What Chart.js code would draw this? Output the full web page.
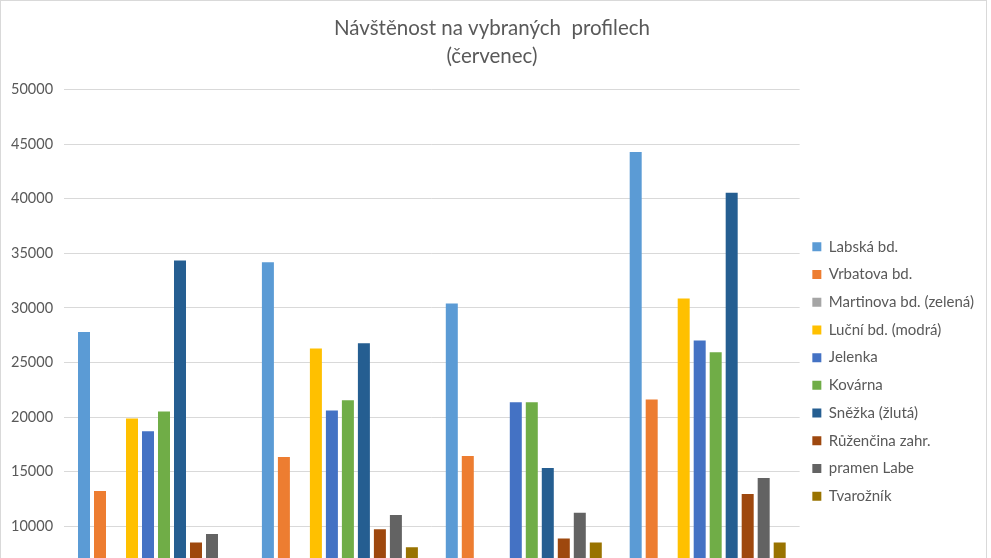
<!DOCTYPE html>
<html>
<head>
<meta charset="utf-8">
<script src="https://cdn.jsdelivr.net/npm/chart.js@4.4.0/dist/chart.umd.min.js"></script>
<style>
  html, body { margin: 0; padding: 0; background: #fff; overflow: hidden; }
  .frame { position: absolute; left: 0; top: 0; width: 987px; height: 700px; border: 1px solid #d9d9d9; box-sizing: border-box; }
  .chart { position: absolute; left: 0; top: 0; width: 991px; height: 677px; }
</style>
</head>
<body>
<div class="frame"></div>
<div class="chart">
  <canvas id="c"></canvas>
</div>
<script>
// kategorie (popisky osy X jsou pod okrajem obrázku - odhad)
const categories = ['2014', '2015', '2016', '2017'];

const labskaBd = [27790, 34180, 30410, 44290];
const vrbatovaBd = [13240, 16350, 16440, 21620];
const martinovaBd = [5200, 6100, 5600, 6800];
const lucniBd = [19880, 26300, 3500, 30870];
const jelenka = [18720, 20610, 21370, 27030];
const kovarna = [20520, 21550, 21370, 25940];
const snezka = [34340, 26760, 15340, 40550];
const ruzencina = [8520, 9740, 8890, 12970];
const pramenLabe = [9315, 11050, 11260, 14430];
const tvaroznik = [6400, 8100, 8520, 8520];

const yTicks = [0, 5000, 10000, 15000, 20000, 25000, 30000, 35000, 40000, 45000, 50000];

const textColor = '#595959';
const fontFamily = 'Lato, "Open Sans", sans-serif';

const series = [
  { label: 'Labská bd.', data: labskaBd, color: '#5B9BD5' },
  { label: 'Vrbatova bd.', data: vrbatovaBd, color: '#ED7D31' },
  { label: 'Martinova bd. (zelená)', data: martinovaBd, color: '#A5A5A5' },
  { label: 'Luční bd. (modrá)', data: lucniBd, color: '#FFC000' },
  { label: 'Jelenka', data: jelenka, color: '#4472C4' },
  { label: 'Kovárna', data: kovarna, color: '#70AD47' },
  { label: 'Sněžka (žlutá)', data: snezka, color: '#255E91' },
  { label: 'Růženčina zahr.', data: ruzencina, color: '#9E480E' },
  { label: 'pramen Labe', data: pramenLabe, color: '#636363' },
  { label: 'Tvarožník', data: tvaroznik, color: '#997300' },
];

// posune legendu níž, jako v předloze
const legendShift = {
  id: 'legendShift',
  afterLayout(chart) {
    const lg = chart.legend;
    if (lg) {
      lg.top += 38;
      lg.bottom += 38;
    }
  },
};

const ctx = document.getElementById('c').getContext('2d');

new Chart(ctx, {
  type: 'bar',
  data: {
    labels: categories,
    datasets: series.map((s) => ({
      label: s.label,
      data: s.data,
      backgroundColor: s.color,
      borderWidth: 0,
      categoryPercentage: 0.87,
      barPercentage: 0.75,
    })),
  },
  options: {
    responsive: true,
    maintainAspectRatio: false,
    animation: false,
    layout: {
      padding: { left: 0, right: 7, top: 0, bottom: 10 },
    },
    plugins: {
      title: {
        display: true,
        text: ['Návštěnost na vybraných  profilech', '(červenec)'],
        color: textColor,
        font: { family: fontFamily, size: 20.5, weight: 'normal', lineHeight: 1.38 },
        padding: { top: 14, bottom: 19 },
      },
      legend: {
        position: 'right',
        align: 'center',
        labels: {
          color: textColor,
          font: { family: fontFamily, size: 15 },
          boxWidth: 9,
          boxHeight: 9,
          padding: 12.7,
        },
      },
      tooltip: { enabled: false },
    },
    scales: {
      x: {
        grid: { display: false },
        border: { display: true, color: '#d9d9d9' },
        ticks: { color: textColor, font: { family: fontFamily, size: 14.5 } },
      },
      y: {
        min: 0,
        max: 50000,
        afterBuildTicks: (axis) => {
          axis.ticks = yTicks.map((v) => ({ value: v }));
        },
        grid: { color: '#d9d9d9', lineWidth: 1, drawTicks: false },
        border: { display: false },
        ticks: {
          color: textColor,
          padding: 11,
          font: { family: fontFamily, size: 14.5 },
          callback: (v) => String(v),
        },
      },
    },
  },
  plugins: [legendShift],
});
</script>
</body>
</html>
